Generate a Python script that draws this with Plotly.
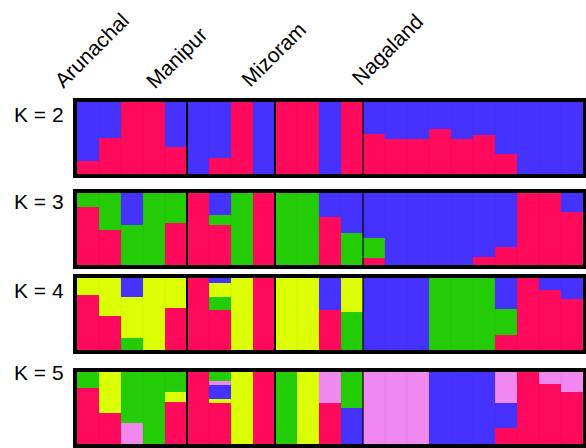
import plotly.graph_objects as go

# 23 individuals grouped by state
groups = ["Arunachal", "Manipur", "Mizoram", "Nagaland"]
group_sizes = [5, 4, 4, 10]
k_labels = ["K = 2", "K = 3", "K = 4", "K = 5"]

RED = "#ff0a5c"
BLUE = "#4632ff"
GREEN = "#23cc05"
YELLOW = "#dcff05"
PINK = "#f088f0"

# Membership proportions per cluster (bottom-to-top stacking order)
k2_red = [0.18, 0.50, 1.00, 1.00, 0.38, 0.00, 0.22, 1.00, 0.00, 1.00, 1.00, 0.00, 1.00,
          0.56, 0.49, 0.49, 0.63, 0.49, 0.54, 0.28, 0.00, 0.00, 0.00]
k2_blue = [0.82, 0.50, 0.00, 0.00, 0.62, 1.00, 0.78, 0.00, 1.00, 0.00, 0.00, 1.00, 0.00,
           0.44, 0.51, 0.51, 0.37, 0.51, 0.46, 0.72, 1.00, 1.00, 1.00]

k3_red = [0.80, 0.48, 0.00, 0.00, 0.59, 1.00, 0.56, 0.00, 1.00, 0.00, 0.00, 0.67, 0.00,
          0.10, 0.00, 0.00, 0.00, 0.00, 0.11, 0.25, 1.00, 1.00, 0.74]
k3_green = [0.20, 0.52, 0.56, 1.00, 0.41, 0.00, 0.14, 1.00, 0.00, 1.00, 1.00, 0.00, 0.44,
            0.28, 0.00, 0.00, 0.00, 0.00, 0.00, 0.00, 0.00, 0.00, 0.00]
k3_blue = [0.00, 0.00, 0.44, 0.00, 0.00, 0.00, 0.30, 0.00, 0.00, 0.00, 0.00, 0.33, 0.56,
           0.62, 1.00, 1.00, 1.00, 1.00, 0.89, 0.75, 0.00, 0.00, 0.26]

k4_red = [0.77, 0.47, 0.00, 0.00, 0.58, 1.00, 0.56, 0.00, 1.00, 0.00, 0.00, 0.56, 0.00,
          0.00, 0.00, 0.00, 0.00, 0.00, 0.00, 0.21, 1.00, 0.84, 0.71]
k4_green = [0.00, 0.00, 0.17, 0.00, 0.00, 0.00, 0.17, 0.00, 0.00, 0.00, 0.00, 0.00, 0.53,
            0.00, 0.00, 0.00, 1.00, 1.00, 1.00, 0.36, 0.00, 0.00, 0.00]
k4_yellow = [0.23, 0.53, 0.57, 1.00, 0.42, 0.00, 0.20, 1.00, 0.00, 1.00, 1.00, 0.00, 0.47,
             0.00, 0.00, 0.00, 0.00, 0.00, 0.00, 0.00, 0.00, 0.00, 0.00]
k4_blue = [0.00, 0.00, 0.26, 0.00, 0.00, 0.00, 0.07, 0.00, 0.00, 0.00, 0.00, 0.44, 0.00,
           1.00, 1.00, 1.00, 0.00, 0.00, 0.00, 0.43, 0.00, 0.16, 0.29]

k5_red = [0.78, 0.43, 0.00, 0.00, 0.58, 1.00, 0.57, 0.00, 1.00, 0.00, 0.00, 0.57, 0.00,
          0.00, 0.00, 0.00, 0.00, 0.00, 0.00, 0.22, 1.00, 0.84, 0.72]
k5_yellow = [0.00, 0.57, 0.00, 0.00, 0.14, 0.00, 0.06, 1.00, 0.00, 0.00, 1.00, 0.00, 0.00,
             0.00, 0.00, 0.00, 0.00, 0.00, 0.00, 0.00, 0.00, 0.00, 0.00]
k5_blue = [0.00, 0.00, 0.00, 0.00, 0.00, 0.00, 0.19, 0.00, 0.00, 0.00, 0.00, 0.00, 0.50,
           0.00, 0.00, 0.00, 1.00, 1.00, 1.00, 0.35, 0.00, 0.00, 0.00]
k5_pink = [0.00, 0.00, 0.29, 0.00, 0.00, 0.00, 0.06, 0.00, 0.00, 0.00, 0.00, 0.43, 0.00,
           1.00, 1.00, 1.00, 0.00, 0.00, 0.00, 0.43, 0.00, 0.16, 0.28]
k5_green = [0.22, 0.00, 0.71, 1.00, 0.28, 0.00, 0.12, 0.00, 0.00, 1.00, 0.00, 0.00, 0.50,
            0.00, 0.00, 0.00, 0.00, 0.00, 0.00, 0.00, 0.00, 0.00, 0.00]

panels = [
    [(k2_red, RED), (k2_blue, BLUE)],
    [(k3_red, RED), (k3_green, GREEN), (k3_blue, BLUE)],
    [(k4_red, RED), (k4_green, GREEN), (k4_yellow, YELLOW), (k4_blue, BLUE)],
    [(k5_red, RED), (k5_yellow, YELLOW), (k5_blue, BLUE), (k5_pink, PINK), (k5_green, GREEN)],
]

W, H = 586, 448
# pixel rows (top, bottom) of each panel's bar area
panel_rows = [(102, 174), (193, 265), (278, 350), (372, 444)]
x_left, x_right = 77, 583
label_y = [114, 201, 290, 372]

n_ind = sum(group_sizes)
ind = list(range(n_ind))

fig = go.Figure()
layout = dict(
    width=W, height=H, margin=dict(l=0, r=0, t=0, b=0),
    paper_bgcolor="white", plot_bgcolor="white",
    barmode="stack", bargap=0, showlegend=False,
    font=dict(family="Liberation Sans, Arial, sans-serif", color="black"),
)
shapes = []
annotations = []

bounds = []
acc = 0
for s in group_sizes[:-1]:
    acc += s
    bounds.append(acc - 0.5)

for p, (traces, (top, bot)) in enumerate(zip(panels, panel_rows)):
    xa = "x" if p == 0 else f"x{p + 1}"
    ya = "y" if p == 0 else f"y{p + 1}"
    for vals, col in traces:
        fig.add_trace(go.Bar(
            x=ind, y=vals, width=1.0, marker=dict(color=col, line=dict(width=0)),
            xaxis=xa, yaxis=ya, hoverinfo="skip",
        ))
    xkey = "xaxis" if p == 0 else f"xaxis{p + 1}"
    ykey = "yaxis" if p == 0 else f"yaxis{p + 1}"
    layout[xkey] = dict(
        domain=[x_left / W, x_right / W], range=[-0.5, n_ind - 0.5],
        showticklabels=False, ticks="", showgrid=False, zeroline=False,
        showline=True, linecolor="black", linewidth=4, mirror=True,
        anchor=ya, fixedrange=True,
    )
    layout[ykey] = dict(
        domain=[1 - bot / H, 1 - top / H], range=[0, 1],
        showticklabels=False, ticks="", showgrid=False, zeroline=False,
        showline=True, linecolor="black", linewidth=4, mirror=True,
        anchor=xa, fixedrange=True,
    )
    # faint separators between individuals
    for i in range(1, n_ind):
        shapes.append(dict(
            type="line", xref=xa, yref=f"{ya} domain", x0=i - 0.5, x1=i - 0.5,
            y0=0, y1=1, line=dict(color="rgba(0,0,0,0.05)", width=1), layer="above",
        ))
    # group separators
    for j, b in enumerate(bounds):
        shapes.append(dict(
            type="line", xref=xa, yref=f"{ya} domain", x0=b, x1=b, y0=0, y1=1,
            line=dict(color="black", width=2 if j < 2 else 1.2), layer="above",
        ))
    annotations.append(dict(
        text=k_labels[p], xref="paper", yref="paper",
        x=12 / W, y=1 - label_y[p] / H, xanchor="left", yanchor="middle",
        showarrow=False, font=dict(size=21),
    ))

# rotated state labels above the top panel
label_centers = [(91, 50), (177, 58), (273, 54), (387, 49)]
for name, (cx, cy) in zip(groups, label_centers):
    annotations.append(dict(
        text=name, xref="paper", yref="paper", x=cx / W, y=1 - cy / H,
        xanchor="center", yanchor="middle", textangle=-45, showarrow=False,
        font=dict(size=21),
    ))

layout["shapes"] = shapes
layout["annotations"] = annotations
fig.update_layout(**layout)
fig.write_html("out.html")
